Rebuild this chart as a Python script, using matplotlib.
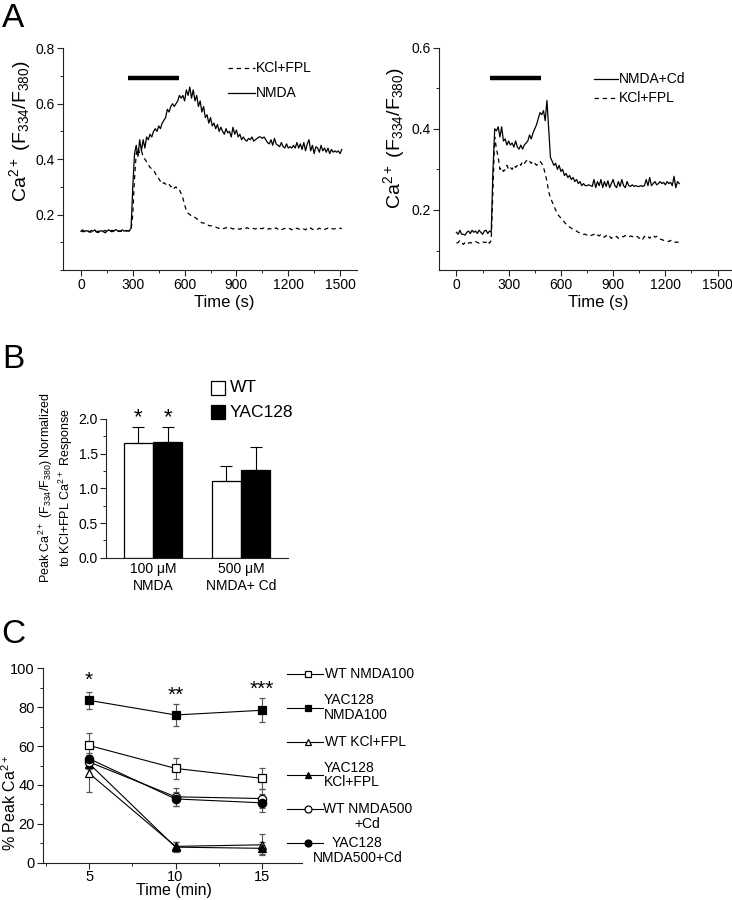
import numpy as np
import matplotlib
matplotlib.use('Agg')
import matplotlib.pyplot as plt
from matplotlib.lines import Line2D
from matplotlib.patches import Rectangle
from matplotlib.ticker import MultipleLocator

plt.rcParams['font.family'] = ['Liberation Sans', 'DejaVu Sans']
plt.rcParams['mathtext.default'] = 'regular'

# ---- panel A, left: NMDA vs KCl+FPL traces (one sample every 10 s) ----
step_s = 10
left_nmda = [
    0.140, 0.145, 0.138, 0.142, 0.140, 0.136, 0.143, 0.140, 0.145, 0.137,
    0.135, 0.140, 0.142, 0.138, 0.134, 0.140, 0.145, 0.141, 0.143, 0.140,
    0.146, 0.142, 0.139, 0.141, 0.145, 0.140, 0.143, 0.141, 0.142,
    0.150, 0.300, 0.420, 0.450, 0.410, 0.470, 0.430, 0.470, 0.440, 0.480,
    0.470, 0.490, 0.480, 0.500, 0.510, 0.500, 0.520, 0.510, 0.530, 0.540,
    0.550, 0.580, 0.570, 0.590, 0.600, 0.590, 0.600, 0.610, 0.630, 0.620,
    0.630, 0.610, 0.650, 0.630, 0.660, 0.620, 0.650, 0.610, 0.630, 0.590,
    0.610, 0.570, 0.590, 0.550, 0.560, 0.530, 0.550, 0.520, 0.530, 0.510,
    0.525, 0.500, 0.515, 0.500, 0.490, 0.510, 0.495, 0.500, 0.480, 0.515,
    0.490, 0.505, 0.480, 0.490, 0.470, 0.480, 0.470, 0.465, 0.475, 0.470,
    0.480, 0.465, 0.470, 0.475, 0.480, 0.480, 0.475, 0.480, 0.470, 0.460,
    0.455, 0.470, 0.450, 0.475, 0.455, 0.450, 0.445, 0.460, 0.445, 0.440,
    0.455, 0.440, 0.445, 0.440, 0.450, 0.440, 0.460, 0.440, 0.455, 0.435,
    0.460, 0.430, 0.455, 0.470, 0.430, 0.450, 0.420, 0.445, 0.440, 0.425,
    0.450, 0.430, 0.440, 0.425, 0.440, 0.420, 0.435, 0.425, 0.430, 0.425,
    0.430, 0.420, 0.435]
left_kcl = [
    0.142, 0.138, 0.140, 0.136, 0.141, 0.139, 0.137, 0.142, 0.140, 0.138,
    0.140, 0.141, 0.137, 0.140, 0.143, 0.139, 0.141, 0.140, 0.138, 0.142,
    0.140, 0.139, 0.141, 0.140, 0.138, 0.141, 0.140, 0.142, 0.140,
    0.145, 0.200, 0.330, 0.420, 0.440, 0.420, 0.430, 0.410, 0.400, 0.390,
    0.380, 0.370, 0.365, 0.360, 0.350, 0.335, 0.330, 0.320, 0.310, 0.315,
    0.310, 0.305, 0.310, 0.300, 0.305, 0.295, 0.300, 0.290, 0.290, 0.275,
    0.260, 0.235, 0.215, 0.205, 0.200, 0.195, 0.190, 0.190, 0.185, 0.180,
    0.175, 0.170, 0.170, 0.165, 0.165, 0.160, 0.160, 0.158, 0.155, 0.155,
    0.152, 0.150, 0.152, 0.149, 0.150, 0.153, 0.148, 0.150, 0.151, 0.148,
    0.150, 0.152, 0.149, 0.147, 0.150, 0.151, 0.148, 0.153, 0.150, 0.147,
    0.149, 0.150, 0.148, 0.151, 0.147, 0.150, 0.149, 0.152, 0.148, 0.146,
    0.150, 0.148, 0.145, 0.149, 0.152, 0.147, 0.150, 0.145, 0.148, 0.150,
    0.146, 0.148, 0.150, 0.145, 0.149, 0.147, 0.151, 0.148, 0.146, 0.150,
    0.148, 0.145, 0.150, 0.147, 0.152, 0.146, 0.149, 0.150, 0.147, 0.151,
    0.148, 0.150, 0.146, 0.149, 0.151, 0.147, 0.150, 0.148, 0.149, 0.150,
    0.148, 0.151, 0.149]
left_stim = [270, 567]
left_stim_y = 0.694

# ---- panel A, right: NMDA+Cd vs KCl+FPL ----
right_nmda_cd = [
    0.145, 0.140, 0.150, 0.140, 0.140, 0.138, 0.145, 0.148, 0.142, 0.150,
    0.145, 0.148, 0.142, 0.150, 0.145, 0.140, 0.148, 0.150, 0.142, 0.148,
    0.145,
    0.300, 0.400, 0.395, 0.405, 0.380, 0.405, 0.370, 0.375, 0.360, 0.370,
    0.360, 0.365, 0.355, 0.370, 0.355, 0.350, 0.360, 0.350, 0.360, 0.365,
    0.370, 0.385, 0.375, 0.390, 0.400, 0.410, 0.425, 0.440, 0.435, 0.445,
    0.420, 0.470, 0.400, 0.330, 0.320, 0.310, 0.315, 0.300, 0.310, 0.295,
    0.300, 0.285, 0.290, 0.280, 0.285, 0.275, 0.280, 0.270, 0.275, 0.265,
    0.270, 0.260, 0.265, 0.260, 0.260, 0.262, 0.260, 0.258, 0.275, 0.255,
    0.270, 0.260, 0.275, 0.255, 0.270, 0.258, 0.272, 0.255, 0.265, 0.275,
    0.260, 0.255, 0.270, 0.258, 0.275, 0.260, 0.255, 0.270, 0.260, 0.258,
    0.262, 0.258, 0.260, 0.258, 0.258, 0.260, 0.258, 0.260, 0.275, 0.260,
    0.280, 0.260, 0.265, 0.270, 0.262, 0.265, 0.270, 0.265, 0.268, 0.262,
    0.270, 0.265, 0.268, 0.260, 0.283, 0.255, 0.270, 0.265]
right_kcl = [
    0.118, 0.120, 0.125, 0.120, 0.115, 0.120, 0.122, 0.118, 0.120, 0.118,
    0.120, 0.122, 0.120, 0.118, 0.120, 0.122, 0.120, 0.120, 0.125, 0.118,
    0.125,
    0.250, 0.380, 0.350, 0.330, 0.300, 0.305, 0.295, 0.300, 0.310, 0.300,
    0.305, 0.300, 0.310, 0.305, 0.310, 0.315, 0.310, 0.320, 0.315, 0.320,
    0.325, 0.320, 0.315, 0.320, 0.315, 0.310, 0.315, 0.320, 0.315, 0.305,
    0.290, 0.270, 0.245, 0.230, 0.220, 0.210, 0.200, 0.190, 0.185, 0.180,
    0.175, 0.170, 0.165, 0.160, 0.158, 0.155, 0.152, 0.150, 0.148, 0.145,
    0.143, 0.142, 0.140, 0.140, 0.138, 0.140, 0.137, 0.138, 0.140, 0.135,
    0.138, 0.136, 0.140, 0.135, 0.133, 0.137, 0.132, 0.135, 0.130, 0.134,
    0.132, 0.135, 0.130, 0.133, 0.135, 0.134, 0.137, 0.135, 0.133, 0.136,
    0.134, 0.135, 0.137, 0.134, 0.130, 0.133, 0.128, 0.135, 0.132, 0.135,
    0.130, 0.136, 0.138, 0.133, 0.135, 0.130, 0.128, 0.127, 0.125, 0.126,
    0.124, 0.122, 0.125, 0.121, 0.122, 0.120, 0.121, 0.119]
right_stim = [191, 488]
right_stim_y = 0.526

# ---- panel B ----
b_groups = ['100 \u03bcM\nNMDA', '500 \u03bcM\nNMDA+ Cd']
b_wt = [1.66, 1.10]
b_wt_err = [0.23, 0.22]
b_yac = [1.67, 1.26]
b_yac_err = [0.21, 0.33]

# ---- panel C ----
c_time = [5, 10, 15]
wt_nmda100 = [60.3, 48.5, 43.4]
wt_nmda100_err = [6.5, 5.5, 5.5]
yac_nmda100 = [83.5, 76.0, 78.4]
yac_nmda100_err = [4.5, 5.5, 6.2]
wt_kcl = [46.0, 8.4, 9.2]
wt_kcl_err = [9.5, 2.5, 5.4]
yac_kcl = [51.0, 8.0, 7.4]
yac_kcl_err = [3.0, 2.5, 3.0]
wt_nmda500 = [51.8, 33.9, 33.0]
wt_nmda500_err = [3.0, 4.5, 5.0]
yac_nmda500 = [53.5, 32.8, 30.8]
yac_nmda500_err = [3.0, 3.5, 4.7]
c_stars = ['*', '**', '***']
c_star_y = [94, 86, 89]

W, H = 732, 900


def fx(px):
    return px / W


def fy(py):
    return 1 - py / H


def box(x0, y0, x1, y1):
    return [fx(x0), fy(y1), (x1 - x0) / W, (y1 - y0) / H]


def style(ax, size=9.5):
    for s in ['top', 'right']:
        ax.spines[s].set_visible(False)
    for s in ['left', 'bottom']:
        ax.spines[s].set_linewidth(0.8)
        ax.spines[s].set_color('#222222')
    ax.tick_params(which='major', direction='out', length=4, width=0.8,
                   labelsize=size, pad=2, color='#222222')
    ax.tick_params(which='minor', direction='out', length=2.2, width=0.7,
                   color='#222222')


fig = plt.figure(figsize=(7.32, 9.0), dpi=100)

# panel A left
axA1 = fig.add_axes(box(63, 48.3, 357, 270))
t1 = np.arange(len(left_nmda)) * step_s
axA1.plot(t1, left_nmda, color='k', lw=0.9)
axA1.plot(np.arange(len(left_kcl)) * step_s, left_kcl, color='k', lw=0.9,
          ls=(0, (3.5, 3)))
axA1.plot(left_stim, [left_stim_y] * 2, color='k', lw=3.2,
          solid_capstyle='butt')
axA1.set_xlim(-104, 1598)
axA1.set_ylim(0.0, 0.8)
axA1.set_xticks([0, 300, 600, 900, 1200, 1500])
axA1.set_yticks([0.2, 0.4, 0.6, 0.8])
axA1.xaxis.set_minor_locator(MultipleLocator(150))
axA1.yaxis.set_minor_locator(MultipleLocator(0.1))
style(axA1, 10)

# panel A right
axA2 = fig.add_axes(box(439, 47.7, 735, 270))
axA2.plot(np.arange(len(right_nmda_cd)) * step_s, right_nmda_cd,
          color='k', lw=0.9)
axA2.plot(np.arange(len(right_kcl)) * step_s, right_kcl, color='k', lw=0.9,
          ls=(0, (3.5, 3)))
axA2.plot(right_stim, [right_stim_y] * 2, color='k', lw=3.2,
          solid_capstyle='butt')
axA2.set_xlim(-100, 1600)
axA2.set_ylim(0.052, 0.6)
axA2.set_xticks([0, 300, 600, 900, 1200, 1500])
axA2.set_yticks([0.2, 0.4, 0.6])
axA2.xaxis.set_minor_locator(MultipleLocator(150))
axA2.yaxis.set_minor_locator(MultipleLocator(0.1))
style(axA2, 10)

ylab = r'Ca$^{2+}$ (F$_{334}$/F$_{380}$)'
fig.text(fx(20), fy(131.5), ylab, rotation=90, ha='center', va='center',
         fontsize=14)
fig.text(fx(394), fy(138.5), ylab, rotation=90, ha='center', va='center',
         fontsize=14)
fig.text(fx(224), fy(303), 'Time (s)', ha='center', va='center', fontsize=12)
fig.text(fx(598), fy(303), 'Time (s)', ha='center', va='center', fontsize=12)

# trace legends
for (x0, x1, y, dashed, lab) in [(228, 255, 68, True, 'KCl+FPL'),
                                 (228, 255, 93, False, 'NMDA'),
                                 (594, 618, 79, False, 'NMDA+Cd'),
                                 (594, 618, 98, True, 'KCl+FPL')]:
    fig.add_artist(Line2D([fx(x0), fx(x1)], [fy(y), fy(y)], color='k',
                          lw=0.9, ls=(0, (3.5, 3)) if dashed else '-',
                          transform=fig.transFigure))
    fig.text(fx(x1 + 1), fy(y), lab, ha='left', va='center', fontsize=10)

# panel B
axB = fig.add_axes(box(106, 419, 288, 557.7))
xb = np.arange(len(b_groups))
bw = 0.335
axB.bar(xb - bw / 2, b_wt, bw, color='white', edgecolor='k', lw=0.9)
axB.bar(xb + bw / 2, b_yac, bw, color='k', edgecolor='k', lw=0.9)
axB.errorbar(xb - bw / 2, b_wt, yerr=[np.zeros(2), b_wt_err], fmt='none',
             ecolor='k', elinewidth=0.8, capsize=4.3, capthick=0.8)
axB.errorbar(xb + bw / 2, b_yac, yerr=[np.zeros(2), b_yac_err], fmt='none',
             ecolor='k', elinewidth=0.8, capsize=4.3, capthick=0.8)
for xs in [xb[0] - bw / 2, xb[0] + bw / 2]:
    axB.text(xs, 2.02, '*', ha='center', va='center', fontsize=16,
             clip_on=False)
axB.set_xlim(-0.534, 1.534)
axB.set_ylim(0, 2.0)
axB.set_yticks([0.0, 0.5, 1.0, 1.5, 2.0])
axB.yaxis.set_minor_locator(MultipleLocator(0.25))
axB.set_xticks(xb)
axB.set_xticklabels(b_groups, fontsize=10, linespacing=1.3)
style(axB, 10)
axB.tick_params(axis='x', length=0, pad=3, labelsize=10)

fig.text(fx(55.5), fy(487.5),
         'Peak Ca$^{2+}$ (F$_{334}$/F$_{380}$) Normalized\n'
         'to KCl+FPL Ca$^{2+}$ Response',
         rotation=90, ha='center', va='center', fontsize=9,
         multialignment='center', linespacing=1.15)

for (y, face, lab) in [(388, 'white', 'WT'), (412, 'black', 'YAC128')]:
    fig.add_artist(Rectangle((fx(211), fy(y + 7)), 14 / W, 14 / H,
                             facecolor=face, edgecolor='k', lw=0.9,
                             transform=fig.transFigure))
    fig.text(fx(230), fy(y), lab, ha='left', va='center', fontsize=12.5)

# panel C
axC = fig.add_axes(box(43.3, 668.3, 301.7, 862.7))
c_series = [
    (wt_kcl, wt_kcl_err, '^', 'white'),
    (yac_kcl, yac_kcl_err, '^', 'black'),
    (wt_nmda500, wt_nmda500_err, 'o', 'white'),
    (yac_nmda500, yac_nmda500_err, 'o', 'black'),
    (wt_nmda100, wt_nmda100_err, 's', 'white'),
    (yac_nmda100, yac_nmda100_err, 's', 'black'),
]
for vals, errs, mk, face in c_series:
    axC.errorbar(c_time, vals, yerr=errs, color='k', ecolor='#555555',
                 elinewidth=0.8, capsize=2, capthick=0.8, marker=mk,
                 ms=6, mfc=face, mec='k', mew=0.9, lw=0.8)
for t, s, y in zip(c_time, c_stars, c_star_y):
    axC.text(t, y, s, ha='center', va='center', fontsize=15)
axC.set_xlim(2.35, 17.3)
axC.set_ylim(0, 100)
axC.set_xticks(c_time)
axC.set_yticks([0, 20, 40, 60, 80, 100])
axC.xaxis.set_minor_locator(MultipleLocator(2.5))
axC.yaxis.set_minor_locator(MultipleLocator(10))
style(axC, 10.5)
axC.tick_params(axis='y', labelsize=10.5)
axC.tick_params(axis='x', pad=1)

fig.text(fx(10), fy(803), '% Peak Ca$^{2+}$', rotation=90, ha='center',
         va='center', fontsize=11.5)
fig.text(fx(174), fy(891), 'Time (min)', ha='center', va='center',
         fontsize=11.5)

# panel C legend
c_legend = [
    (674, 's', 'white', ['WT NMDA100'], 'left', 325),
    (707.7, 's', 'black', ['YAC128', 'NMDA100'], 'left', 324),
    (742, '^', 'white', ['WT KCl+FPL'], 'left', 325),
    (775, '^', 'black', ['YAC128', 'KCl+FPL'], 'left', 324),
    (809, 'o', 'white', ['WT NMDA500', '+Cd'], 'center', 367.5),
    (843, 'o', 'black', ['YAC128', 'NMDA500+Cd'], 'center', 357.5),
]
for (y, mk, face, lines, align, tx) in c_legend:
    fig.add_artist(Line2D([fx(287), fx(323)], [fy(y), fy(y)], color='k',
                          lw=0.8, transform=fig.transFigure))
    fig.add_artist(Line2D([fx(308)], [fy(y)], marker=mk, ms=5, mfc=face,
                          mec='k', mew=0.9, transform=fig.transFigure))
    if len(lines) == 2 and align == 'left':
        ys = [y - 7.5, y + 7.5]
    else:
        ys = [y, y + 15]
    for ly, txt in zip(ys, lines):
        fig.text(fx(tx), fy(ly), txt, ha=align, va='center', fontsize=10)

# panel letters
fig.text(fx(2), fy(27), 'A', ha='left', va='baseline', fontsize=24)
fig.text(fx(2), fy(368), 'B', ha='left', va='baseline', fontsize=24)
fig.text(fx(1), fy(643), 'C', ha='left', va='baseline', fontsize=24)

fig.savefig('out.png', dpi=100)
